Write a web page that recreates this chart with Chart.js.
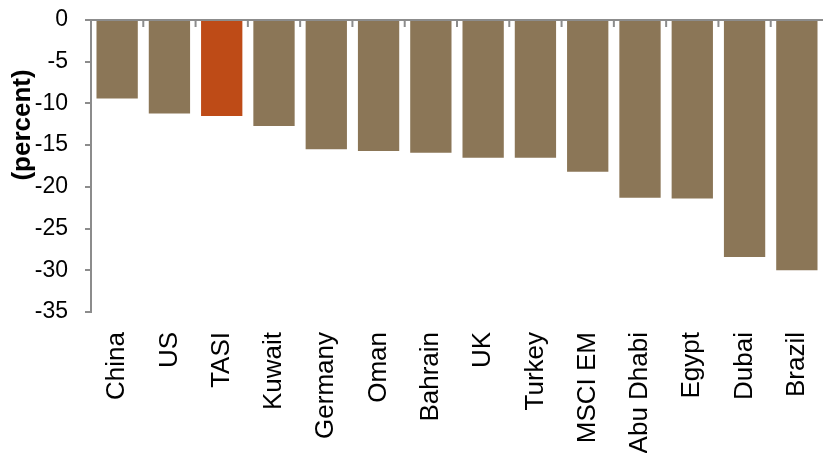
<!DOCTYPE html>
<html>
<head>
<meta charset="utf-8">
<script src="https://cdn.jsdelivr.net/npm/chart.js@4/dist/chart.umd.min.js"></script>
<style>
  html, body { margin: 0; padding: 0; background: #fff; }
  #wrap { width: 824px; height: 453px; }
</style>
</head>
<body>
<div id="wrap"><canvas id="chart"></canvas></div>
<script>
const markets = ['China', 'US', 'TASI', 'Kuwait', 'Germany', 'Oman', 'Bahrain', 'UK', 'Turkey', 'MSCI EM', 'Abu Dhabi', 'Egypt', 'Dubai', 'Brazil'];
const changes = [-9.4, -11.2, -11.5, -12.7, -15.5, -15.7, -15.9, -16.5, -16.5, -18.2, -21.3, -21.4, -28.4, -30.0];
const highlight = 'TASI';
const yTicks = [0, -5, -10, -15, -20, -25, -30, -35];

const barColors = markets.map(m => m === highlight ? '#BE4B17' : '#8B7657');
const axisGrey = '#8c8c8c';

// zero line along the top plus small category ticks, and the y title
const decor = {
  id: 'decor',
  afterDatasetsDraw(chart) {
    const ctx = chart.ctx;
    const x = chart.scales.x;
    const y = chart.scales.y;
    const area = chart.chartArea;
    const y0 = y.getPixelForValue(0);
    ctx.save();
    ctx.strokeStyle = axisGrey;
    ctx.lineWidth = 2;
    ctx.beginPath();
    ctx.moveTo(area.left, y0);
    ctx.lineTo(area.right, y0);
    ctx.stroke();
    for (let i = 1; i < markets.length; i++) {
      const px = (x.getPixelForValue(i - 1) + x.getPixelForValue(i)) / 2;
      ctx.beginPath();
      ctx.moveTo(px, y0);
      ctx.lineTo(px, y0 + 7);
      ctx.stroke();
    }
    // axis title, sits over the tick labels like the original
    ctx.translate(23, area.top + 105);
    ctx.rotate(-Math.PI / 2);
    ctx.fillStyle = '#000';
    ctx.font = 'bold 26px "Liberation Sans", Arial, sans-serif';
    ctx.textAlign = 'center';
    ctx.textBaseline = 'middle';
    ctx.fillText('(percent)', 0, 0);
    ctx.restore();
  }
};

new Chart(document.getElementById('chart'), {
  type: 'bar',
  data: {
    labels: markets,
    datasets: [{
      data: changes,
      backgroundColor: barColors,
      borderWidth: 0,
      barPercentage: 0.79,
      categoryPercentage: 1.0
    }]
  },
  options: {
    responsive: true,
    maintainAspectRatio: false,
    animation: false,
    layout: { padding: { top: 20, right: 1, bottom: 0, left: 0 } },
    plugins: {
      legend: { display: false },
      tooltip: { enabled: false }
    },
    scales: {
      x: {
        grid: { display: false, drawTicks: false },
        border: { display: false },
        ticks: {
          color: '#000',
          font: { family: '"Liberation Sans", Arial, sans-serif', size: 26 },
          minRotation: 90,
          maxRotation: 90,
          padding: 20,
          autoSkip: false
        },
        afterFit(scale) {
          scale.height = 141;
          scale.paddingLeft = 0;
          scale.paddingRight = 0;
        }
      },
      y: {
        min: -35,
        max: 0,
        afterBuildTicks(scale) {
          scale.ticks = yTicks.map(v => ({ value: v }));
        },
        grid: { drawOnChartArea: false, tickLength: 6, color: axisGrey, lineWidth: 2 },
        border: { display: true, color: axisGrey, width: 2 },
        ticks: {
          color: '#000',
          font: { family: '"Liberation Sans", Arial, sans-serif', size: 23 },
          padding: 17
        },
        afterFit(scale) {
          scale.width = 91;
          scale.paddingTop = 0;
          scale.paddingBottom = 0;
        }
      }
    }
  },
  plugins: [decor]
});
</script>
</body>
</html>
